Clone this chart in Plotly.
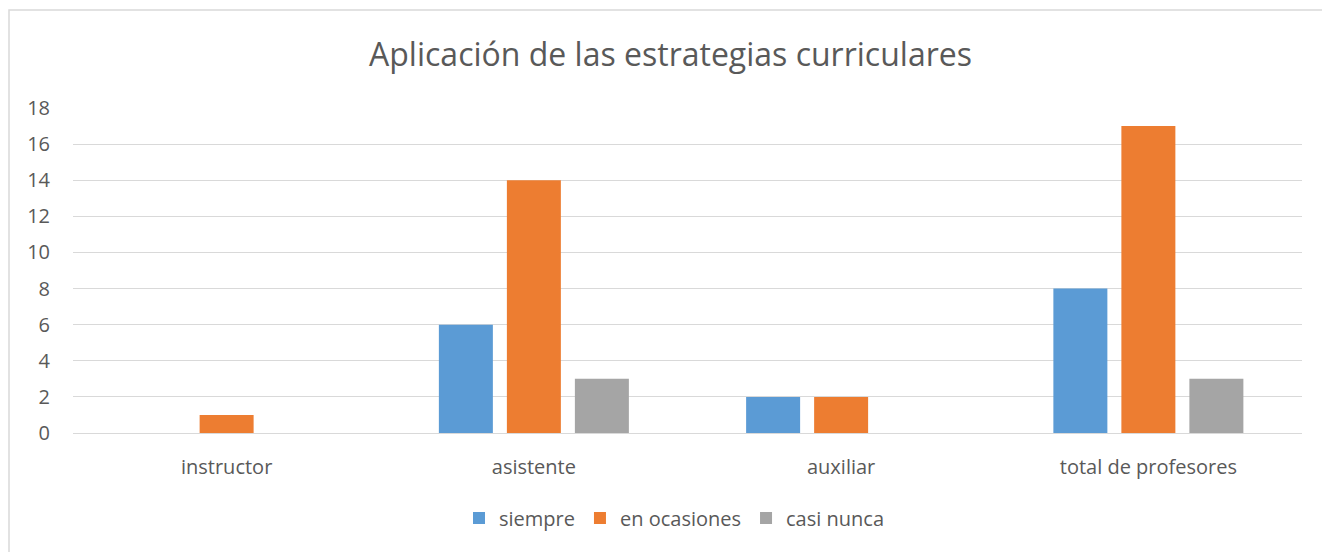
import plotly.graph_objects as go

categories = ["instructor", "asistente", "auxiliar", "total de profesores"]
siempre = [None, 6, 2, 8]
en_ocasiones = [1, 14, 2, 17]
casi_nunca = [None, 3, None, 3]
y_ticks = [0, 2, 4, 6, 8, 10, 12, 14, 16, 18]

FONT = "Open Sans"
TXT = "#595959"
GRID = "#D9D9D9"

W, H = 1330, 552
L, T, R, B = 65, 100, 36, 127
PW = W - L - R
PH = H - T - B

fig = go.Figure()
for name, vals, col in [("siempre", siempre, "#5B9BD5"),
                        ("en ocasiones", en_ocasiones, "#ED7D31"),
                        ("casi nunca", casi_nunca, "#A5A5A5")]:
    fig.add_trace(go.Bar(x=categories, y=vals, name=name,
                         marker=dict(color=col, line=dict(width=0))))

fig.update_layout(
    width=W, height=H,
    barmode="group", bargap=0.336, bargroupgap=0.206,
    paper_bgcolor="white", plot_bgcolor="white",
    margin=dict(l=L, r=R, t=T, b=B),
    title=dict(text="Aplicación de las estrategias curriculares",
               x=(670.5 - 8) / W, xref="container", xanchor="center", y=1 - 47 / H, yanchor="middle",
               font=dict(family=FONT, size=32, color=TXT)),
    font=dict(family=FONT, size=20, color=TXT),
    legend=dict(orientation="h", x=(666 - L) / PW, xanchor="center", y=-(510 - (T + PH)) / PH,
                yanchor="middle", itemwidth=30,
                font=dict(family=FONT, size=20, color=TXT),
                traceorder="normal"),
    xaxis=dict(showgrid=False, showline=False, ticks="", ticklabelstandoff=20,
               tickfont=dict(size=20, color=TXT)),
    yaxis=dict(range=[0, 18], tickvals=y_ticks, showgrid=True, gridcolor=GRID, gridwidth=1,
               zeroline=True, zerolinecolor=GRID, zerolinewidth=1,
               showline=False, ticks="", ticklabelstandoff=22,
               tickfont=dict(size=20, color=TXT)),
    shapes=[dict(type="rect", xref="paper", yref="paper",
                 x0=(1 - L) / PW, x1=1.2, y0=-2, y1=1 + (T - 2) / PH,
                 line=dict(color=GRID, width=1.5), layer="below")],
)

fig.write_html("out.html")
